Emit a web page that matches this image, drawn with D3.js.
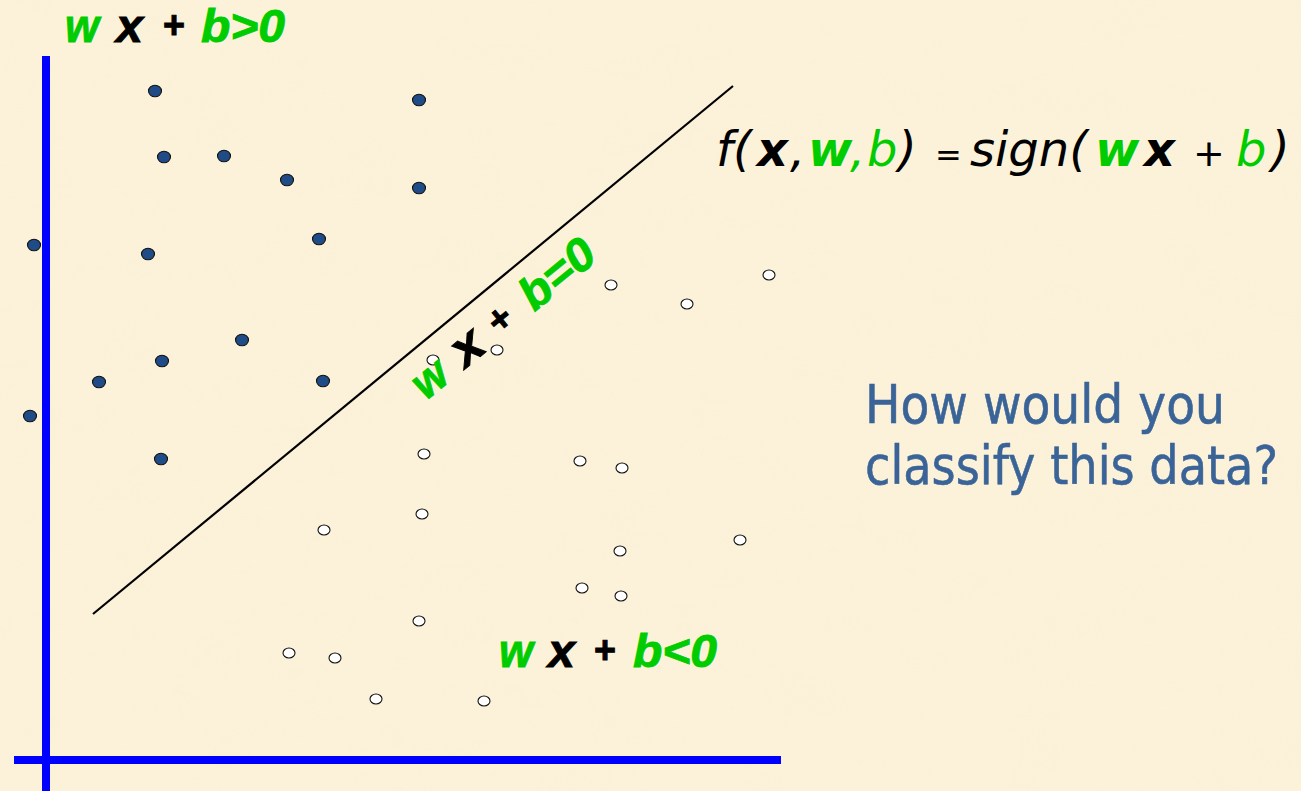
<!DOCTYPE html>
<html>
<head>
<meta charset="utf-8">
<script src="https://cdn.jsdelivr.net/npm/d3@7"></script>
<style>
html, body { margin: 0; padding: 0; background: #fcf2da; overflow: hidden; }
</style>
</head>
<body>
<div id="chart"></div>
<script>
// class +1 (filled) and class -1 (open) points, in plot units
const positiveX = [109, 373, 118, 178, 241, 373, -12, 102, 273, 196, 116, 53, 277, -16, 115];
const positiveY = [669, 660, 603, 604, 580, 572, 515, 506, 521, 420, 399, 378, 379, 344, 301];
const negativeX = [723, 565, 641, 387, 451, 378, 534, 576, 376, 278, 694, 574, 536, 575, 373, 243, 289, 330, 438];
const negativeY = [485, 475, 456, 400, 410, 306, 299, 292, 246, 230, 220, 209, 172, 164, 139, 107, 102, 61, 59];
// separating line w x + b = 0
const boundaryX = [47, 687];
const boundaryY = [146, 674];
// axis extents
const axisXRange = [-32, 735];
const axisYRange = [-31, 704];

const aboveTokens = ["w", "x", "+", "b>0"];
const belowTokens = ["w", "x", "+", "b<0"];
const lineTokens = ["w", "x", "+", "b=0"];
const questionLines = ["How would you", "classify this data?"];

const svgWidth = 1301;
const svgHeight = 791;
const green = "#00cc00";

const svg = d3.select("#chart")
    .append("svg")
    .attr("width", svgWidth)
    .attr("height", svgHeight);

// parchment background
const defs = svg.append("defs");
const paper = defs.append("filter").attr("id", "paper")
    .attr("x", 0).attr("y", 0).attr("width", 1).attr("height", 1);
paper.append("feTurbulence")
    .attr("type", "fractalNoise")
    .attr("baseFrequency", "0.012 0.025")
    .attr("numOctaves", 3)
    .attr("seed", 7);
paper.append("feColorMatrix")
    .attr("type", "matrix")
    .attr("values", "0 0 0 0 0.90  0 0 0 0 0.84  0 0 0 0 0.62  0 0 0 1.4 -0.55");

svg.append("rect").attr("width", svgWidth).attr("height", svgHeight).attr("fill", "#fcf2da");
svg.append("rect").attr("width", svgWidth).attr("height", svgHeight)
    .attr("filter", "url(#paper)").attr("opacity", 0.2);

const scaleX = d3.scaleLinear().domain([0, 735]).range([46, 781]);
const scaleY = d3.scaleLinear().domain([0, 704]).range([760, 56]);

// axes
svg.append("line")
    .attr("x1", scaleX(0)).attr("x2", scaleX(0))
    .attr("y1", scaleY(axisYRange[0])).attr("y2", scaleY(axisYRange[1]))
    .attr("stroke", "#0000ff").attr("stroke-width", 8);
svg.append("line")
    .attr("x1", scaleX(axisXRange[0])).attr("x2", scaleX(axisXRange[1]))
    .attr("y1", scaleY(0)).attr("y2", scaleY(0))
    .attr("stroke", "#0000ff").attr("stroke-width", 8);

// decision boundary
svg.append("line")
    .attr("x1", scaleX(boundaryX[0])).attr("y1", scaleY(boundaryY[0]))
    .attr("x2", scaleX(boundaryX[1])).attr("y2", scaleY(boundaryY[1]))
    .attr("stroke", "#000").attr("stroke-width", 2.2);

const positives = positiveX.map((x, i) => ({ x: x, y: positiveY[i] }));
const negatives = negativeX.map((x, i) => ({ x: x, y: negativeY[i] }));

svg.selectAll(".pos")
    .data(positives)
    .enter()
    .append("ellipse")
    .attr("class", "pos")
    .attr("cx", d => scaleX(d.x))
    .attr("cy", d => scaleY(d.y))
    .attr("rx", 6.5)
    .attr("ry", 5.8)
    .attr("fill", "#1f4c86")
    .attr("stroke", "#111")
    .attr("stroke-width", 1.1);

svg.selectAll(".neg")
    .data(negatives)
    .enter()
    .append("ellipse")
    .attr("class", "neg")
    .attr("cx", d => scaleX(d.x))
    .attr("cy", d => scaleY(d.y))
    .attr("rx", 6)
    .attr("ry", 5)
    .attr("fill", "#fff")
    .attr("stroke", "#111")
    .attr("stroke-width", 1.1);

// "w x + b ..." labels
const tokenColors = [green, "#000", "#000", green];
function label(g, tokens, offsets, widths, sizes) {
    g.selectAll("text")
        .data(tokens)
        .enter()
        .append("text")
        .attr("x", (d, i) => offsets[i])
        .attr("y", (d, i) => i === 2 ? -4 : 0)
        .attr("font-family", "'Liberation Sans', Arial, sans-serif")
        .attr("font-weight", "bold")
        .attr("font-style", (d, i) => i === 2 ? "normal" : "italic")
        .attr("font-size", (d, i) => sizes[i])
        .attr("textLength", (d, i) => widths[i])
        .attr("lengthAdjust", "spacingAndGlyphs")
        .attr("fill", (d, i) => tokenColors[i])
        .attr("stroke", (d, i) => tokenColors[i])
        .attr("stroke-width", 0.9)
        .text(d => d);
}

label(svg.append("g").attr("transform", "translate(65,42)"), aboveTokens,
    [0, 51, 98, 136], [34, 27, 22, 84], [46, 46, 38, 46]);
label(svg.append("g").attr("transform", "translate(499,667)"), belowTokens,
    [0, 49, 95, 134], [34, 27, 22, 84], [46, 46, 38, 46]);
label(svg.append("g").attr("transform", "translate(426,401) rotate(-39.3)"), lineTokens,
    [0, 51, 98, 140], [34, 30, 22, 84], [46, 50, 38, 46]);

// formula f(x,w,b) = sign(w x + b)
const formulaTokens = [
    { t: "f(", x: 716, c: "#000", w: "normal", s: 48 },
    { t: "x", x: 757, c: "#000", w: "bold", s: 48 },
    { t: ",", x: 790, c: "#000", w: "normal", s: 48 },
    { t: "w", x: 808, c: green, w: "bold", s: 48 },
    { t: ",", x: 850, c: green, w: "normal", s: 48 },
    { t: "b", x: 867, c: green, w: "normal", s: 48 },
    { t: ")", x: 898, c: "#000", w: "normal", s: 48 },
    { t: "=", x: 935, c: "#000", w: "normal", s: 32 },
    { t: "sign(", x: 970, c: "#000", w: "normal", s: 48 },
    { t: "w", x: 1095, c: green, w: "bold", s: 48 },
    { t: "x", x: 1144, c: "#000", w: "bold", s: 48 },
    { t: "+", x: 1193, c: "#000", w: "normal", s: 38 },
    { t: "b", x: 1236, c: green, w: "normal", s: 48 },
    { t: ")", x: 1271, c: "#000", w: "normal", s: 48 }
];
svg.append("g")
    .selectAll("text")
    .data(formulaTokens)
    .enter()
    .append("text")
    .attr("x", d => d.x)
    .attr("y", 166)
    .attr("font-family", "'DejaVu Sans', sans-serif")
    .attr("font-style", "italic")
    .attr("font-size", d => d.s)
    .attr("font-weight", d => d.w)
    .attr("fill", d => d.c)
    .text(d => d.t);

// question
svg.append("g")
    .selectAll("text")
    .data(questionLines)
    .enter()
    .append("text")
    .attr("x", 865)
    .attr("y", (d, i) => 423 + i * 61)
    .attr("font-family", "'DejaVu Sans', sans-serif")
    .attr("font-size", 54)
    .attr("textLength", (d, i) => i === 0 ? 360 : 413)
    .attr("lengthAdjust", "spacingAndGlyphs")
    .attr("fill", "#3a6498")
    .attr("stroke", "#3a6498")
    .attr("stroke-width", 0.6)
    .text(d => d);
</script>
</body>
</html>
